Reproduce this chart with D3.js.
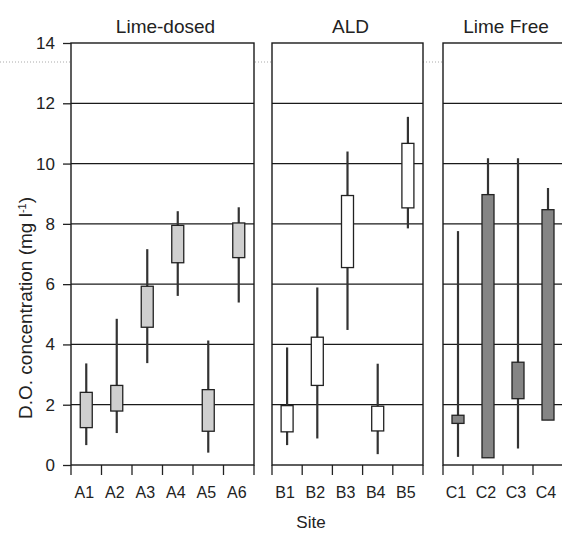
<!DOCTYPE html>
<html lang="en">
<head>
<meta charset="UTF-8">
<title>D.O. concentration by site</title>
<style>
  body { margin: 0; background: #fff; }
  text { font-family: "Liberation Sans", Arial, sans-serif; fill: #222; }
</style>
</head>
<body>
<script src="https://cdn.jsdelivr.net/npm/d3@7"></script>
<script>
// data
const groups = ["Lime-dosed", "ALD", "Lime Free"];
const sites = ["A1","A2","A3","A4","A5","A6","B1","B2","B3","B4","B5","C1","C2","C3","C4"];
const siteGroup = [0,0,0,0,0,0,1,1,1,1,1,2,2,2,2];
const whiskerLow  = [0.66, 1.06, 3.38, 5.61, 0.41, 5.39, 0.66, 0.88, 4.48, 0.36, 7.85, 0.27, 0.24, 0.55, 1.49];
const boxLow      = [1.24, 1.79, 4.57, 6.71, 1.12, 6.88, 1.10, 2.64, 6.55, 1.13, 8.53, 1.38, 0.24, 2.20, 1.49];
const boxHigh     = [2.41, 2.64, 5.93, 7.95, 2.50, 8.03, 1.97, 4.24, 8.94, 1.95, 10.67, 1.65, 8.97, 3.41, 8.47];
const whiskerHigh = [3.37, 4.85, 7.16, 8.42, 4.13, 8.55, 3.90, 5.89, 10.40, 3.36, 11.55, 7.76, 10.18, 10.18, 9.19];
const yTicks = [0, 2, 4, 6, 8, 10, 12, 14];

// layout
const W = 562, H = 534;
const panels = [ {l: 71, r: 254}, {l: 272, r: 423}, {l: 443, r: 563} ];
const groupFill = ["#cfcfcf", "#ffffff", "#858585"];
const boxW = 12;

const svg = d3.select("body").append("svg")
  .attr("width", W).attr("height", H);

const y = d3.scaleLinear().domain([0, 14]).range([465, 43]);

// faint dotted scan line across top
svg.append("line")
  .attr("x1", 0).attr("x2", W).attr("y1", 62).attr("y2", 62)
  .attr("stroke", "#aaa").attr("stroke-width", 1).attr("stroke-dasharray", "1,2");

const rows = sites.map((s, i) => ({
  site: s, g: siteGroup[i],
  wl: whiskerLow[i], bl: boxLow[i], bh: boxHigh[i], wh: whiskerHigh[i]
}));

groups.forEach((name, gi) => {
  const p = panels[gi];
  const cats = sites.filter((s, i) => siteGroup[i] === gi);
  const x = d3.scaleBand().domain(cats).range([p.l, p.r]).padding(0);
  const g = svg.append("g");

  g.append("rect")
    .attr("x", p.l).attr("y", y(14))
    .attr("width", p.r - p.l).attr("height", y(0) - y(14))
    .attr("fill", "#fff");

  // horizontal grid lines
  g.selectAll(".grid").data(yTicks.slice(1, -1)).enter().append("line")
    .attr("x1", p.l).attr("x2", p.r)
    .attr("y1", d => y(d)).attr("y2", d => y(d))
    .attr("stroke", "#1a1a1a").attr("stroke-width", 1.3);

  // bottom axis with downward ticks
  const ax = g.append("g").attr("transform", `translate(0,${y(0)})`)
    .call(d3.axisBottom(x).tickSize(0).tickPadding(22));
  ax.select(".domain").remove();
  ax.selectAll("text")
    .attr("dx", -2)
    .style("font-size", "16px").style("fill", "#222");
  const edges = d3.range(cats.length + 1).map(i => p.l + i * x.step());
  g.selectAll(".xt").data(edges).enter().append("line")
    .attr("x1", d => d).attr("x2", d => d)
    .attr("y1", y(0)).attr("y2", y(0) + 10)
    .attr("stroke", "#222").attr("stroke-width", 1.3);

  // panel frame
  g.append("rect")
    .attr("x", p.l).attr("y", y(14))
    .attr("width", p.r - p.l).attr("height", y(0) - y(14))
    .attr("fill", "none").attr("stroke", "#1a1a1a").attr("stroke-width", 1.4);

  // boxes and whiskers
  const data = rows.filter(d => d.g === gi);
  const c = d => x(d.site) + x.bandwidth() / 2;
  g.selectAll(".wh").data(data).enter().append("line")
    .attr("x1", c).attr("x2", c)
    .attr("y1", d => y(d.wh)).attr("y2", d => y(d.wl))
    .attr("stroke", "#333").attr("stroke-width", 2.2);
  g.selectAll(".box").data(data).enter().append("rect")
    .attr("x", d => c(d) - boxW / 2)
    .attr("y", d => y(d.bh))
    .attr("width", boxW)
    .attr("height", d => y(d.bl) - y(d.bh))
    .attr("fill", groupFill[gi])
    .attr("stroke", "#222").attr("stroke-width", 1.3);

  // panel title
  svg.append("text")
    .attr("x", (p.l + p.r) / 2 + 3).attr("y", 33)
    .attr("text-anchor", "middle")
    .style("font-size", "19px")
    .text(name);
});

// y axis
const yAx = svg.append("g").attr("transform", `translate(${panels[0].l},0)`)
  .call(d3.axisLeft(y).tickValues(yTicks).tickSize(8).tickPadding(8));
yAx.select(".domain").remove();
yAx.selectAll("line").attr("stroke", "#222").attr("stroke-width", 1.3);
yAx.selectAll("text").style("font-size", "17px").style("fill", "#222");

// y axis title
const yt = svg.append("text")
  .attr("transform", "translate(32,308) rotate(-90)")
  .attr("text-anchor", "middle")
  .style("font-size", "19px");
yt.append("tspan").text("D.O. concentration (mg l");
yt.append("tspan").attr("baseline-shift", "super").style("font-size", "11px").text("-1");
yt.append("tspan").text(")");

// x axis title
svg.append("text")
  .attr("x", 311).attr("y", 528)
  .attr("text-anchor", "middle")
  .style("font-size", "17px")
  .text("Site");
</script>
</body>
</html>
